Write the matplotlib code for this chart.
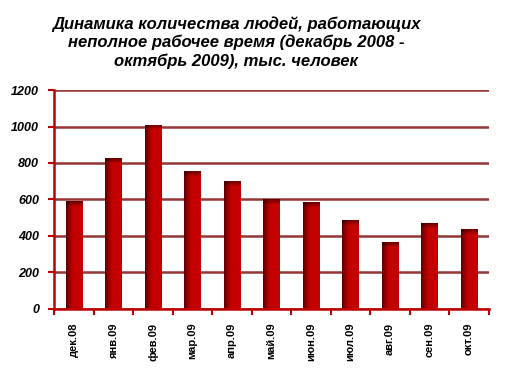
import numpy as np
import matplotlib
matplotlib.use("Agg")
import matplotlib.pyplot as plt
from matplotlib.colors import to_rgb

categories = ["дек.08", "янв.09", "фев.09", "мар.09", "апр.09", "май.09",
              "июн.09", "июл.09", "авг.09", "сен.09", "окт.09"]
values = [590, 825, 1010, 755, 700, 600, 585, 487, 366, 471, 437]
yticks = [0, 200, 400, 600, 800, 1000, 1200]
title = "Динамика количества людей, работающих\nнеполное рабочее время (декабрь 2008 -\nоктябрь 2009), тыс. человек"

plt.rcParams['font.family'] = ['Liberation Sans', 'DejaVu Sans']

fig = plt.figure(figsize=(5.06, 3.8), dpi=100)
ax = fig.add_axes([0.1073, 0.1876, 0.8587, 0.5754])

x = np.arange(len(categories))
width = 0.41
bars = ax.bar(x, values, width=width, color="#c00000", zorder=3)

dark = np.array(to_rgb("#580000"))
red = np.array(to_rgb("#c40000"))
nx = 40
for b, v in zip(bars, values):
    ny = max(int(v * 0.1823), 2)
    xs = np.linspace(0, 1, nx)
    t = np.clip(xs / 0.42, 0, 1)[None, :, None]
    col = dark + (red - dark) * t ** 0.8
    img = np.repeat(col, ny, axis=0)
    rows = np.arange(ny)[:, None, None]
    topdark = np.clip(1 - rows / 5.0, 0, 1) * 0.45
    img = img * (1 - topdark)
    x0 = b.get_x()
    im = ax.imshow(img, extent=[x0, x0 + b.get_width(), 0, v], aspect='auto',
                   origin='upper', zorder=4, interpolation='bilinear')
    im.set_clip_path(b)

ax.set_xlim(-0.5, len(categories) - 0.5)
ax.set_ylim(0, 1200)
ax.set_yticks(yticks)
ax.set_yticklabels([str(t) for t in yticks], fontsize=9, fontweight='bold', style='italic')
ax.yaxis.grid(True, color="#953735", linewidth=1.8, zorder=1)
ax.set_axisbelow(True)

ax.set_xticks(x)
ax.set_xticklabels(categories, rotation=90, fontsize=8, fontweight='bold')
ax.set_xticks(np.arange(-0.5, len(categories) + 0.5, 1), minor=True)
ax.tick_params(axis='x', which='major', length=0, pad=10)
ax.tick_params(axis='x', which='minor', length=4, width=1.5, color="#c00000", direction='out')
ax.tick_params(axis='y', length=4, width=1.5, color="#c00000", direction='out', pad=7)

for s in ['top', 'right']:
    ax.spines[s].set_visible(False)
for s in ['left', 'bottom']:
    ax.spines[s].set_color("#c00000")
    ax.spines[s].set_linewidth(1.8)
    ax.spines[s].set_zorder(5)

fig.text(0.467, 0.958, title, ha='center', va='top', fontsize=12,
         fontweight='bold', style='italic', linespacing=1.25)

fig.savefig("out.png", dpi=100)
